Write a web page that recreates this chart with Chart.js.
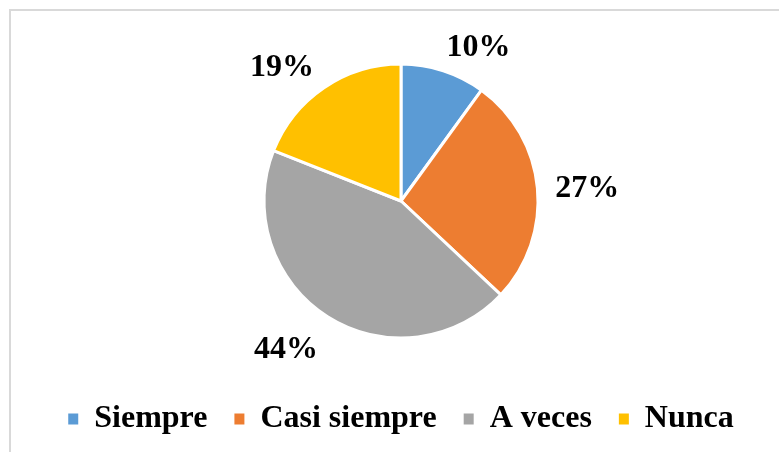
<!DOCTYPE html>
<html>
<head>
<meta charset="utf-8">
<script src="https://cdn.jsdelivr.net/npm/chart.js@4/dist/chart.umd.min.js"></script>
<style>
    html, body { margin: 0; padding: 0; background: #fff; overflow: hidden; }
    #wrap { position: relative; width: 779px; height: 452px; }
    #frame { position: absolute; left: 9px; top: 9px; width: 800px; height: 500px; border: 2px solid #d9d9d9; box-sizing: border-box; }
    canvas { position: absolute; left: 0; top: 0; }
</style>
</head>
<body>
<div id="wrap">
    <div id="frame"></div>
    <canvas id="pie" width="779" height="452"></canvas>
</div>
<script>
const CATEGORIES = ["Siempre", "Casi siempre", "A veces", "Nunca"];
const PERCENTAGES = [10, 27, 44, 19];
const COLORS = ["#5B9BD5", "#ED7D31", "#A5A5A5", "#FFC000"];

const FONT = "'Liberation Serif', 'Times New Roman', serif";
const FONT_SIZE = 32;

// "NN%" labels outside each slice: the label box sits just past the rim,
// pushed out by its own half width / half height like office charts do
const outsideLabels = {
    id: 'outsideLabels',
    afterDatasetsDraw(chart) {
        const ctx = chart.ctx;
        const meta = chart.getDatasetMeta(0);
        ctx.save();
        ctx.font = `bold ${FONT_SIZE}px ${FONT}`;
        ctx.fillStyle = '#000';
        ctx.textAlign = 'center';
        ctx.textBaseline = 'middle';
        meta.data.forEach((arc, i) => {
            const { x, y, startAngle, endAngle, outerRadius } = arc.getProps(['x', 'y', 'startAngle', 'endAngle', 'outerRadius'], true);
            const text = `${PERCENTAGES[i]}%`;
            const mid = (startAngle + endAngle) / 2;
            const ux = Math.cos(mid), uy = Math.sin(mid);
            const halfW = ctx.measureText(text).width / 2;
            const halfH = FONT_SIZE * 0.36;
            const dist = outerRadius + 18;
            const lx = x + ux * dist + Math.sign(ux) * halfW * Math.min(1, Math.abs(ux) * 3);
            const ly = y + uy * dist + Math.sign(uy) * halfH * Math.min(1, Math.abs(uy) * 3);
            ctx.fillText(text, lx, ly + 6);
        });
        ctx.restore();
    }
};

new Chart(document.getElementById('pie'), {
    type: 'pie',
    data: {
        labels: CATEGORIES,
        datasets: [{
            data: PERCENTAGES,
            backgroundColor: COLORS,
            borderColor: '#fff',
            borderWidth: 3,
            radius: 137
        }]
    },
    options: {
        responsive: false,
        animation: false,
        layout: { padding: { top: 26, bottom: 7, left: 23, right: 0 } },
        plugins: {
            tooltip: { enabled: false },
            legend: {
                position: 'bottom',
                labels: {
                    boxWidth: 10,
                    boxHeight: 11,
                    padding: 27,
                    color: '#000',
                    font: { family: FONT, size: FONT_SIZE, weight: 'bold' },
                    generateLabels(chart) {
                        const items = Chart.overrides.pie.plugins.legend.labels.generateLabels(chart);
                        items.forEach(item => item.lineWidth = 0);
                        return items;
                    }
                }
            }
        }
    },
    plugins: [outsideLabels]
});
</script>
</body>
</html>
